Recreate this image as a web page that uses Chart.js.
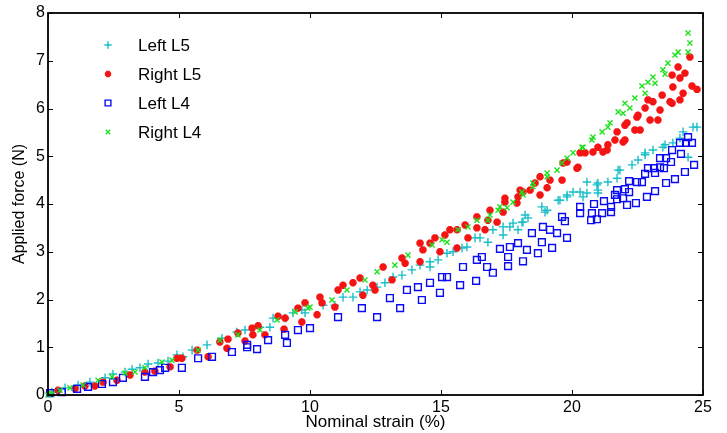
<!DOCTYPE html>
<html>
<head>
<meta charset="utf-8">
<script src="https://cdn.jsdelivr.net/npm/chart.js@4.4.0/dist/chart.umd.min.js"></script>
<style>
  html, body { margin: 0; padding: 0; background: #fff; }
  #wrap { width: 727px; height: 433px; }
</style>
</head>
<body>
<div id="wrap"><canvas id="chart" width="727" height="433"></canvas></div>
<script>
// axis ticks
const xTicks = [0, 5, 10, 15, 20, 25];
const yTicks = [0, 1, 2, 3, 4, 5, 6, 7, 8];
const seriesNames = ['Left L5', 'Right L5', 'Left L4', 'Right L4'];

// [nominal strain %, applied force N]
const leftL5 = [
  [0.15,0.06],[0.65,0.15],[1.15,0.21],[1.60,0.27],[2.18,0.36],[2.48,0.44],[2.94,0.48],[3.21,0.54],
  [3.51,0.57],[3.82,0.65],[4.20,0.67],[4.58,0.71],[4.92,0.84],[5.15,0.80],[5.50,0.94],[6.07,1.05],
  [6.64,1.19],[7.21,1.32],[7.52,1.36],[8.09,1.42],[8.47,1.42],[8.59,1.61],[9.05,1.61],[9.35,1.72],
  [9.69,1.78],[9.81,1.72],[10.50,1.88],[10.95,1.88],[11.26,2.05],[11.64,2.05],[11.91,2.16],[12.18,2.20],
  [12.56,2.26],[12.86,2.35],[13.17,2.47],[13.51,2.51],[13.89,2.62],[14.20,2.72],[14.58,2.79],[14.89,2.83],
  [14.58,2.68],[15.23,2.97],[15.46,3.00],[15.80,3.08],[15.99,3.10],[16.30,3.29],[16.49,3.29],[16.79,3.20],
  [16.98,3.46],[17.37,3.52],[17.37,3.35],[17.63,3.52],[17.94,3.46],[18.09,3.62],[18.21,3.77],[18.32,3.71],
  [18.85,3.94],[19.05,3.87],[19.47,4.08],[19.81,4.19],[17.75,3.60],[18.13,3.62],[18.97,3.83],[19.54,4.08],
  [19.81,4.15],[20.31,4.25],[20.42,4.15],[20.57,4.46],[20.95,4.40],[20.99,4.29],[21.37,4.46],[21.72,4.54],
  [21.83,4.71],[22.29,4.82],[22.52,4.92],[22.79,5.07],[23.09,5.13],[23.47,5.19],[23.85,5.28],[24.12,5.38],
  [24.24,5.51],[24.62,5.61],[24.43,4.98],[20.04,4.25],[23.55,5.24],[24.77,5.61],[20.99,4.44],[21.76,4.71],
  [22.79,5.03],[20.57,4.23],[20.99,4.23]
];
const rightL5 = [
  [0.38,0.10],[1.03,0.13],[1.41,0.19],[1.79,0.19],[2.10,0.27],[2.63,0.31],[3.13,0.42],[3.70,0.48],
  [4.08,0.50],[4.66,0.59],[5.11,0.77],[4.92,0.77],[5.69,0.94],[6.11,0.80],[6.56,1.11],[6.83,0.98],
  [6.87,1.17],[7.25,1.30],[7.52,1.13],[7.79,1.40],[7.82,1.26],[8.02,1.45],[8.28,1.26],[8.78,1.65],
  [9.05,1.61],[9.01,1.38],[9.54,1.82],[9.69,1.53],[9.81,1.93],[10.27,1.68],[10.38,2.05],[10.46,1.93],
  [11.07,2.20],[11.26,2.30],[10.95,1.84],[11.64,2.35],[11.91,2.45],[12.02,2.09],[12.40,2.30],[12.48,2.20],
  [12.79,2.68],[13.13,2.41],[13.51,2.87],[13.63,2.76],[14.20,3.18],[14.20,2.79],[14.31,3.04],[14.77,3.29],
  [14.58,3.18],[14.96,3.00],[15.15,3.35],[15.34,3.46],[15.61,3.46],[15.61,3.08],[15.92,3.56],[16.03,3.29],
  [16.37,3.73],[16.37,3.50],[16.68,3.46],[16.79,3.66],[16.87,3.87],[17.14,3.62],[17.37,3.83],[17.44,4.12],
  [17.44,4.04],[17.90,4.02],[17.94,4.15],[18.02,4.29],[18.59,4.44],[18.78,4.19],[19.05,4.34],[19.62,4.50],
  [19.81,4.88],[18.13,4.25],[18.40,4.29],[18.78,4.57],[19.16,4.50],[19.66,4.86],[20.19,4.75],[20.31,5.07],
  [20.80,5.09],[21.34,5.13],[21.95,5.30],[22.10,5.70],[21.72,5.51],[22.60,5.55],[22.52,5.86],[22.98,5.76],
  [23.36,5.97],[23.09,6.14],[23.82,6.11],[24.12,6.18],[20.50,5.07],[20.23,4.77],[20.99,5.19],[21.18,5.09],
  [21.37,5.24],[21.64,5.34],[22.02,5.65],[22.02,5.34],[22.40,5.55],[22.48,5.82],[22.79,6.01],[22.90,6.18],
  [23.28,5.76],[23.44,6.28],[23.74,6.14],[23.85,6.45],[23.82,6.70],[24.05,6.87],[24.12,6.64],[24.31,6.74],
  [24.24,6.32],[24.58,6.47],[24.50,7.08],[24.77,6.40]
];
const leftL4 = [
  [0.08,0.04],[0.53,0.06],[1.11,0.13],[1.53,0.17],[2.06,0.23],[2.48,0.27],[2.86,0.36],[3.70,0.38],
  [4.01,0.48],[4.27,0.52],[4.47,0.57],[5.11,0.57],[5.73,0.77],[6.26,0.80],[7.02,0.90],[7.60,1.05],
  [7.60,1.00],[7.98,0.96],[8.40,1.15],[9.05,1.26],[9.12,1.09],[9.54,1.36],[10.00,1.40],[11.07,1.63],
  [11.98,1.82],[12.56,1.63],[13.05,2.03],[13.44,1.82],[13.70,2.20],[14.12,2.26],[14.27,1.99],[14.58,2.35],
  [14.96,2.14],[15.04,2.47],[15.23,2.47],[15.73,2.30],[15.84,2.68],[16.34,2.39],[16.37,2.83],[16.56,2.89],
  [16.76,2.68],[16.98,2.56],[17.25,3.06],[17.56,2.89],[17.63,3.10],[17.56,2.70],[17.94,3.18],[18.13,2.80],
  [18.28,3.04],[18.47,3.39],[18.70,2.97],[18.85,3.20],[18.89,3.52],[19.16,3.46],[19.24,3.08],[19.43,3.39],
  [19.62,3.73],[19.73,3.64],[19.81,3.29],[20.31,3.94],[20.31,3.81],[20.76,3.81],[20.84,4.00],[20.73,3.66],
  [20.95,3.68],[21.15,3.81],[21.22,4.06],[21.49,3.94],[21.49,3.83],[21.72,4.29],[21.64,4.19],[21.72,4.10],
  [21.95,4.12],[22.10,3.98],[22.02,4.31],[22.18,4.48],[22.18,4.25],[22.44,4.02],[22.48,4.46],[22.67,4.46],
  [22.79,4.63],[22.86,4.15],[22.90,4.75],[23.13,4.75],[23.17,4.65],[23.17,4.27],[23.36,4.96],[23.36,4.77],
  [23.59,4.96],[23.51,4.75],[23.59,4.44],[23.78,4.88],[23.82,5.13],[24.12,5.28],[24.16,5.05],[23.93,4.52],
  [24.35,5.28],[24.43,5.40],[24.58,5.28],[24.31,4.67],[24.66,4.82]
];
const rightL4 = [
  [0.00,0.00],[0.15,0.02],[0.08,0.04],[0.46,0.10],[0.84,0.15],[1.34,0.21],[1.91,0.31],[2.44,0.38],
  [2.94,0.46],[3.32,0.48],[3.70,0.57],[4.35,0.69],[4.73,0.73],[5.73,0.94],[6.56,1.15],[7.25,1.26],
  [8.09,1.36],[8.74,1.57],[9.43,1.74],[9.92,1.82],[10.00,1.84],[10.84,1.99],[11.41,2.20],[12.10,2.41],
  [12.56,2.58],[13.24,2.72],[13.74,2.93],[14.66,3.14],[15.04,3.25],[15.23,3.20],[15.65,3.46],[16.03,3.52],
  [16.37,3.66],[16.79,3.66],[17.18,3.87],[17.52,3.92],[18.09,4.25],[18.51,4.44],[19.05,4.65],[19.62,4.86],
  [16.87,3.77],[17.25,3.94],[17.75,4.04],[18.13,4.19],[18.51,4.36],[19.05,4.57],[19.43,4.71],[20.04,5.07],
  [20.42,5.19],[20.80,5.40],[21.45,5.70],[21.95,5.90],[22.02,6.11],[19.81,4.96],[20.38,5.19],[20.76,5.34],
  [21.15,5.51],[21.37,5.61],[21.76,5.93],[22.21,6.01],[22.40,6.22],[22.79,6.32],[22.67,6.47],[22.90,6.55],
  [23.09,6.66],[23.17,6.53],[23.47,6.81],[23.55,6.72],[23.66,6.95],[23.93,7.12],[24.05,7.18],[24.43,7.18],
  [24.50,7.37],[24.43,7.58]
];

const seriesData = [leftL5, rightL5, leftL4, rightL4];
const seriesColors = ['rgb(25,190,200)', 'rgb(245,20,20)', 'rgb(10,10,245)', 'rgb(30,225,30)'];
const seriesFill = ['rgb(25,190,200)', 'rgb(245,20,20)', 'rgba(0,0,0,0)', 'rgb(30,225,30)'];
const seriesStyles = ['cross', 'star', 'rect', 'crossRot'];
const seriesRadius = [4.3, 3.7, 4.8, 3.6];
const seriesWidth = [1.4, 2.6, 1.4, 1.4];
const seriesOrder = [3, 2, 1, 0];

const FONT = '"Liberation Sans", Arial, Helvetica, sans-serif';

// box + inward ticks, matlab style
const boxPlugin = {
  id: 'box',
  afterDatasetsDraw(chart) {
    const a = chart.chartArea, ctx = chart.ctx;
    const xs = chart.scales.x, ys = chart.scales.y;
    ctx.save();
    ctx.strokeStyle = '#000';
    ctx.lineWidth = 1;
    ctx.beginPath();
    xTicks.forEach(function(t) {
      const px = Math.round(xs.getPixelForValue(t)) + 0.5;
      ctx.moveTo(px, a.bottom); ctx.lineTo(px, a.bottom - 5);
      ctx.moveTo(px, a.top); ctx.lineTo(px, a.top + 5);
    });
    yTicks.forEach(function(t) {
      const py = Math.round(ys.getPixelForValue(t)) + 0.5;
      ctx.moveTo(a.left, py); ctx.lineTo(a.left + 5, py);
      ctx.moveTo(a.right, py); ctx.lineTo(a.right - 5, py);
    });
    ctx.stroke();
    ctx.lineWidth = 1.8;
    ctx.strokeRect(a.left, a.top, a.right - a.left, a.bottom - a.top);
    ctx.restore();
  }
};

// legend inside the plot, upper left
const legendPlugin = {
  id: 'innerLegend',
  afterDraw(chart) {
    const ctx = chart.ctx;
    ctx.save();
    ctx.font = '17px ' + FONT;
    ctx.textBaseline = 'middle';
    seriesNames.forEach(function(name, i) {
      const y = 45 + i * 29;
      ctx.strokeStyle = seriesColors[i];
      ctx.fillStyle = seriesFill[i];
      ctx.lineWidth = seriesWidth[i];
      Chart.helpers.drawPoint(ctx, { pointStyle: seriesStyles[i], radius: seriesRadius[i] * 0.85, borderWidth: seriesWidth[i] }, 108, y);
      ctx.fillStyle = '#000';
      ctx.fillText(name, 138, y + 1);
    });
    ctx.restore();
  }
};

new Chart(document.getElementById('chart'), {
  type: 'scatter',
  data: {
    datasets: seriesNames.map(function(name, i) {
      return {
        label: name,
        data: seriesData[i].map(function(p) { return { x: p[0], y: p[1] }; }),
        pointStyle: seriesStyles[i],
        pointRadius: seriesRadius[i],
        pointBorderWidth: seriesWidth[i],
        borderColor: seriesColors[i],
        backgroundColor: seriesFill[i],
        pointHoverRadius: seriesRadius[i],
        showLine: false,
        order: seriesOrder[i],
        clip: false
      };
    })
  },
  options: {
    responsive: false,
    animation: false,
    devicePixelRatio: 1,
    layout: { padding: { top: 13, right: 24, left: 0, bottom: 0 } },
    plugins: { legend: { display: false }, tooltip: { enabled: false } },
    scales: {
      x: {
        type: 'linear', min: 0, max: 25,
        afterBuildTicks: function(s) { s.ticks = xTicks.map(function(v) { return { value: v }; }); },
        afterFit: function(s) { s.height = 38; },
        grid: { display: false, drawTicks: false },
        border: { display: false },
        ticks: { color: '#000', padding: 3, font: { family: FONT, size: 16 } },
        title: { display: true, text: 'Nominal strain (%)', color: '#000', padding: { top: 0, bottom: 0 }, font: { family: FONT, size: 17 } }
      },
      y: {
        type: 'linear', min: 0, max: 8,
        afterBuildTicks: function(s) { s.ticks = yTicks.map(function(v) { return { value: v }; }); },
        afterFit: function(s) { s.width = 48; },
        grid: { display: false, drawTicks: false },
        border: { display: false },
        ticks: { color: '#000', padding: 3, font: { family: FONT, size: 16 } },
        title: { display: true, text: 'Applied force (N)', color: '#000', padding: { top: 10, bottom: 0 }, font: { family: FONT, size: 16 } }
      }
    }
  },
  plugins: [boxPlugin, legendPlugin]
});
</script>
</body>
</html>
